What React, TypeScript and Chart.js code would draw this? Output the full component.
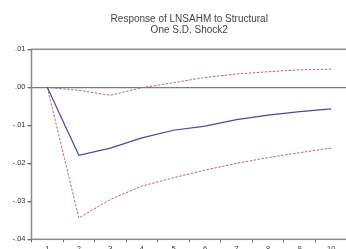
import React, { useEffect, useRef } from "react";
import { Chart, registerables } from "chart.js";

Chart.register(...registerables);

const periods = ["1", "2", "3", "4", "5", "6", "7", "8", "9", "10"];
const response = [0, -0.0179, -0.016, -0.0133, -0.0113, -0.0102, -0.0085, -0.0073, -0.0064, -0.0057];
const upperBand = [0, -0.0008, -0.0021, -0.0001, 0.0012, 0.0026, 0.0035, 0.0041, 0.0046, 0.0048];
const lowerBand = [0, -0.0344, -0.0295, -0.026, -0.0238, -0.0218, -0.02, -0.0185, -0.0172, -0.016];
const titleLines = ["Response of LNSAHM to Structural", "One S.D. Shock2"];

const FONT = "Arial, 'Liberation Sans', sans-serif";

const fmt = (v: number) => {
  const r = Math.round(v * 100) / 100;
  if (Math.abs(r) < 1e-9) return ".00";
  const s = Math.abs(r).toFixed(2).replace(/^0/, "");
  return r < 0 ? "-" + s : s;
};

const framePlugin = {
  id: "frame",
  afterDraw(chart: any) {
    const { ctx, chartArea } = chart;
    ctx.save();
    ctx.strokeStyle = "#8a8a8a";
    ctx.lineWidth = 1.5;
    ctx.strokeRect(chartArea.left, chartArea.top, chartArea.right - chartArea.left, chartArea.bottom - chartArea.top);
    // title centred over the plot area
    ctx.fillStyle = "#444";
    ctx.font = `10px ${FONT}`;
    ctx.textAlign = "center";
    ctx.textBaseline = "middle";
    const cx = (chartArea.left + chartArea.right) / 2;
    titleLines.forEach((t, i) => ctx.fillText(t, cx, 19 + i * 11));
    ctx.restore();
  },
};

export default function App() {
  const ref = useRef<HTMLCanvasElement>(null);
  useEffect(() => {
    if (!ref.current) return;
    const chart = new Chart(ref.current, {
      type: "line",
      data: {
        labels: periods,
        datasets: [
          { data: response, borderColor: "#4848a0", borderWidth: 1.2, pointRadius: 0, tension: 0, fill: false },
          { data: upperBand, borderColor: "#c86060", borderWidth: 1, borderDash: [2.5, 1.5], pointRadius: 0, tension: 0, fill: false },
          { data: lowerBand, borderColor: "#c86060", borderWidth: 1, borderDash: [2.5, 1.5], pointRadius: 0, tension: 0, fill: false },
        ],
      },
      options: {
        animation: false,
        responsive: false,
        maintainAspectRatio: false,
        layout: { padding: { left: 0, right: 13, top: 49.3, bottom: 0 } },
        plugins: {
          legend: { display: false },
          tooltip: { enabled: false },
          title: { display: false },
        },
        scales: {
          x: {
            type: "category",
            offset: true,
            grid: { display: true, drawOnChartArea: false, offset: true, tickLength: 3, tickColor: "#666", lineWidth: 1 },
            border: { display: false },
            ticks: { color: "#333", font: { family: FONT, size: 7.5 }, padding: 2.5, maxRotation: 0, autoSkip: false },
            afterFit: (s: any) => { s.height = 20.7; },
          },
          y: {
            type: "linear",
            min: -0.04,
            max: 0.01,
            ticks: { stepSize: 0.01, color: "#333", font: { family: FONT, size: 7.5 }, padding: 2, callback: (v: any) => fmt(Number(v)) },
            grid: {
              drawOnChartArea: true,
              tickLength: 4,
              tickColor: "#666",
              color: (c: any) => (c.tick && Math.abs(c.tick.value) < 1e-9 ? "#7a7a7a" : "rgba(0,0,0,0)"),
              lineWidth: 1.3,
            },
            border: { display: false },
            afterFit: (s: any) => { s.width = 31.5; },
          },
        },
      },
      plugins: [framePlugin],
    });
    return () => chart.destroy();
  }, []);
  return (
    <div style={{ position: "fixed", left: 0, top: 0, width: 346, height: 249, overflow: "hidden", background: "#fff" }}>
      <canvas ref={ref} width={360} height={260} style={{ width: 360, height: 260, display: "block" }} />
    </div>
  );
}
